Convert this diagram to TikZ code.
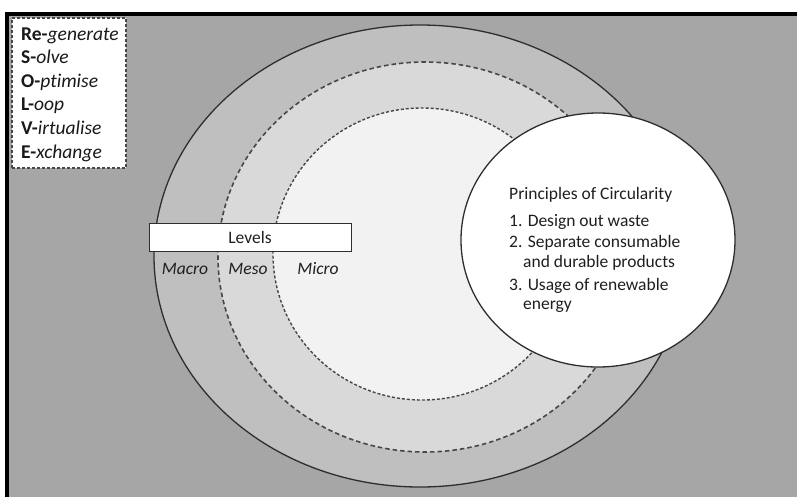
\documentclass[tikz,border=0pt]{standalone}
\usepackage{fontspec}
\setmainfont{Carlito}[Ligatures={NoCommon}]
\usetikzlibrary{shapes.geometric}

\definecolor{bggray}{HTML}{A6A6A6}
\definecolor{macrogray}{HTML}{BFBFBF}
\definecolor{mesogray}{HTML}{D9D9D9}
\definecolor{microgray}{HTML}{F2F2F2}
\definecolor{edge}{HTML}{2E2E2E}
\definecolor{dashedge}{HTML}{474747}

\tikzset{
  ring/.style={ellipse, inner sep=0pt, outer sep=0pt},
  solidring/.style={ring, draw=edge, line width=1.3pt},
  dashring/.style={ring, draw=dashedge, line width=1.6pt, dash pattern=on 4.5pt off 3pt},
  fineDashring/.style={ring, draw=dashedge, line width=1.4pt, dash pattern=on 3pt off 2pt},
  bodytext/.style={font=\fontsize{17.5}{21}\selectfont, inner sep=0pt, text=black!88},
  legendtext/.style={font=\fontsize{19.5}{23.6}\selectfont, inner sep=0pt, anchor=base west, text=black!90},
  levelname/.style={bodytext, font=\fontsize{17.5}{21}\selectfont\itshape, anchor=base},
  principle/.style={bodytext, anchor=base west},
}

\begin{document}
\begin{tikzpicture}[x=1pt, y=-1pt]
  \useasboundingbox (0,0) rectangle (797,496);
  \clip (0,0) rectangle (797,496);

  % page frame: grey field with a heavy black edge
  \fill[white] (0,0) rectangle (797,496);
  \draw[fill=bggray, line width=4.2pt] (7,14.3) rectangle (820,520);

  % nested levels
  \node[solidring, fill=macrogray, minimum width=532pt, minimum height=462pt] (macro) at (420,256) {};
  \node[dashring, fill=mesogray, minimum width=414pt, minimum height=390pt] (meso) at (425,257) {};
  \node[fineDashring, fill=microgray, minimum width=298pt, minimum height=292pt] (micro) at (422,254) {};

  % principles bubble
  \node[solidring, fill=white, minimum width=274pt, minimum height=254pt] (bubble) at (598,240) {};
  \node[principle] (p0) at (509,199) {Principles of Circularity};
  \node[principle] (p1) at (509,226) {1. Design out waste};
  \node[principle] (p2) at (509,247) {2. Separate consumable};
  \node[principle] (p3) at (523,267) {and durable products};
  \node[principle] (p4) at (509,290) {3. Usage of renewable};
  \node[principle] (p5) at (523,309) {energy};

  % levels banner and labels
  \node[draw=edge, fill=white, line width=1pt, minimum width=202pt, minimum height=28pt, inner sep=0pt,
        bodytext] (levels) at (250,237) {Levels};
  \node[levelname] (lmacro) at (185,274) {Macro};
  \node[levelname] (lmeso) at (248,274) {Meso};
  \node[levelname] (lmicro) at (318,274) {Micro};

  % ReSOLVE legend
  \node[draw=dashedge, fill=white, line width=1.2pt, dash pattern=on 3pt off 2pt,
        minimum width=114pt, minimum height=150pt, inner sep=0pt] (legend) at (69,93) {};
  \node[legendtext] (r1) at (21,40.0) {\textbf{Re-}\textit{generate}};
  \node[legendtext] (r2) at (21,63.6) {\textbf{S-}\textit{olve}};
  \node[legendtext] (r3) at (21,87.2) {\textbf{O-}\textit{ptimise}};
  \node[legendtext] (r4) at (21,110.8) {\textbf{L-}\textit{oop}};
  \node[legendtext] (r5) at (21,134.4) {\textbf{V-}\textit{irtualise}};
  \node[legendtext] (r6) at (21,158.0) {\textbf{E-}\textit{xchange}};
\end{tikzpicture}
\end{document}
